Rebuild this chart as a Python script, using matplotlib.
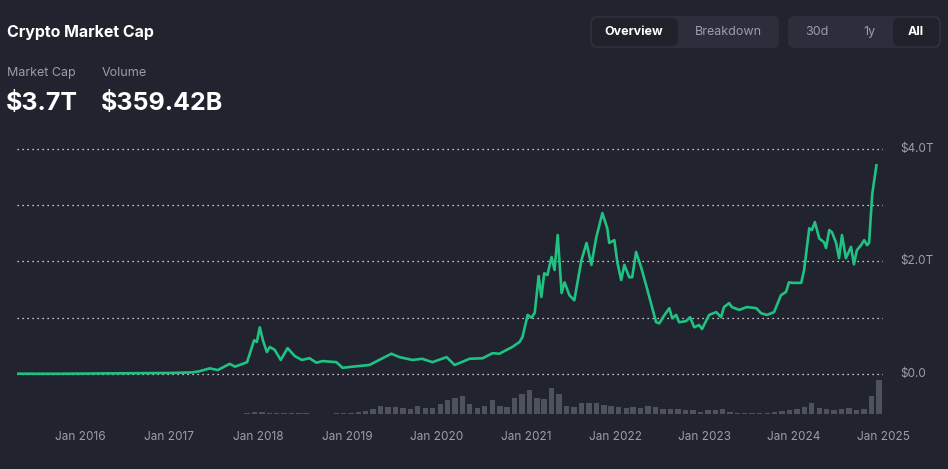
import numpy as np
import pandas as pd
import matplotlib
matplotlib.use("Agg")
import matplotlib.pyplot as plt
import matplotlib.dates as mdates
from matplotlib.patches import FancyBboxPatch

plt.rcParams['font.family'] = ['Inter', 'DejaVu Sans']

# ----------------------------------------------------------
# data
# ----------------------------------------------------------
mcap_dates = [
    "2015-04-18", "2015-10-01", "2016-01-01", "2016-06-01", "2017-01-01",
    "2017-04-01", "2017-05-01", "2017-06-15", "2017-07-18", "2017-09-05",
    "2017-09-27", "2017-11-15", "2017-12-14", "2017-12-25", "2018-01-06",
    "2018-01-19", "2018-02-04", "2018-02-16", "2018-03-08", "2018-04-02",
    "2018-04-30", "2018-05-29", "2018-06-27", "2018-07-29", "2018-08-26",
    "2018-09-20", "2018-11-16", "2018-12-11", "2019-01-21", "2019-03-31",
    "2019-05-24", "2019-06-29", "2019-08-01", "2019-09-23", "2019-11-02",
    "2019-12-14", "2020-02-10", "2020-03-14", "2020-05-14", "2020-07-07",
    "2020-08-16", "2020-09-13", "2020-11-05", "2020-12-05", "2020-12-17",
    "2021-01-07", "2021-01-23", "2021-02-05", "2021-02-21", "2021-03-04",
    "2021-03-16", "2021-03-29", "2021-04-15", "2021-04-27", "2021-05-10",
    "2021-05-26", "2021-06-07", "2021-06-27", "2021-07-17", "2021-08-15",
    "2021-09-05", "2021-09-25", "2021-10-15", "2021-11-09", "2021-11-29",
    "2021-12-07", "2021-12-28", "2022-01-09", "2022-01-25", "2022-02-07",
    "2022-02-27", "2022-03-11", "2022-03-27", "2022-04-17", "2022-05-07",
    "2022-05-27", "2022-06-17", "2022-06-30", "2022-07-20", "2022-08-10",
    "2022-08-22", "2022-09-07", "2022-09-19", "2022-10-18", "2022-11-03",
    "2022-11-20", "2022-12-10", "2022-12-22", "2023-01-20", "2023-02-18",
    "2023-03-10", "2023-03-22", "2023-04-12", "2023-04-23", "2023-05-23",
    "2023-06-12", "2023-06-24", "2023-08-01", "2023-08-21", "2023-09-14",
    "2023-10-13", "2023-11-10", "2023-12-01", "2023-12-13", "2023-12-26",
    "2024-02-01", "2024-02-13", "2024-03-05", "2024-03-16", "2024-03-28",
    "2024-04-15", "2024-05-05", "2024-05-13", "2024-05-26", "2024-06-06",
    "2024-06-23", "2024-07-05", "2024-07-17", "2024-08-02", "2024-08-23",
    "2024-09-04", "2024-09-16", "2024-10-03", "2024-10-16", "2024-10-28",
    "2024-11-05", "2024-11-18", "2024-11-28", "2024-12-05",
]
mcap_values = [
    0.005, 0.004, 0.007, 0.010, 0.018,
    0.028, 0.045, 0.10, 0.07, 0.18,
    0.13, 0.21, 0.60, 0.57, 0.83,
    0.60, 0.39, 0.48, 0.43, 0.25,
    0.46, 0.32, 0.25, 0.28, 0.20,
    0.23, 0.21, 0.11, 0.13, 0.16,
    0.28, 0.36, 0.30, 0.25, 0.27,
    0.21, 0.30, 0.16, 0.27, 0.28,
    0.37, 0.36, 0.48, 0.57, 0.66,
    1.05, 1.00, 1.09, 1.74, 1.37,
    1.79, 1.76, 2.08, 1.85, 2.47,
    1.44, 1.63, 1.40, 1.31, 2.02,
    2.33, 1.94, 2.43, 2.86, 2.59,
    2.33, 2.38, 1.99, 1.67, 1.94,
    1.72, 1.72, 2.17, 1.89, 1.58,
    1.26, 0.92, 0.90, 1.04, 1.17,
    0.99, 1.05, 0.92, 0.94, 1.01,
    0.83, 0.87, 0.80, 1.05, 1.10,
    1.01, 1.19, 1.26, 1.19, 1.14,
    1.17, 1.19, 1.17, 1.08, 1.05,
    1.10, 1.40, 1.46, 1.63, 1.62,
    1.62, 1.85, 2.59, 2.56, 2.70,
    2.41, 2.34, 2.24, 2.56, 2.52,
    2.33, 2.06, 2.47, 2.06, 2.26,
    1.95, 2.20, 2.29, 2.38, 2.29,
    2.33, 3.20, 3.50, 3.71,
]

vol_months = pd.date_range("2017-11-01", "2024-12-01", freq="MS")
vol_values = [
    15, 25, 25, 15, 15, 10, 15, 10, 10, 0, 0, 0,           # 2017-11 .. 2018-10
    8, 10,                                                  # 2018-11 .. 2018-12
    12, 20, 30, 50, 80, 70, 70, 60, 50, 80, 60, 60,         # 2019
    100, 140, 160, 180, 100, 60, 80, 140, 80, 70, 160, 200, # 2020
    240, 160, 150, 260, 200, 80, 70, 110, 110, 110, 90, 80, # 2021
    70, 60, 70, 60, 80, 70, 50, 50, 50, 40, 40, 20,         # 2022
    40, 40, 50, 20, 15, 15, 12, 12, 10, 20, 30, 40,         # 2023
    50, 70, 110, 60, 50, 40, 50, 60, 40, 50, 180, 340,      # 2024
]

x_ticks = pd.date_range("2016-01-01", "2025-01-01", freq="YS")
y_ticks = [0, 2, 4]
y_tick_labels = ["$0.0", "$2.0T", "$4.0T"]

# ----------------------------------------------------------
# style
# ----------------------------------------------------------
BG = "#21232e"
GREEN = "#1fc283"
GREY = "#9a9dab"
W, H = 948, 469

fig = plt.figure(figsize=(W / 100, H / 100), dpi=100, facecolor=BG)


def fx(px):
    return px / W


def fy(py):
    return 1 - py / H


# ----------------------------------------------------------
# header text
# ----------------------------------------------------------
fig.text(fx(7), fy(32), "Crypto Market Cap", color="white", fontsize=11.5,
         fontweight="bold", va="center", ha="left")
fig.text(fx(7), fy(73), "Market Cap", color=GREY, fontsize=9,
         va="center", ha="left")
fig.text(fx(102), fy(73), "Volume", color=GREY, fontsize=9,
         va="center", ha="left")
fig.text(fx(6), fy(103), "$3.7T", color="white", fontsize=18,
         fontweight="bold", va="center", ha="left")
fig.text(fx(101), fy(103), "$359.42B", color="white", fontsize=18,
         fontweight="bold", va="center", ha="left")

# buttons (drawn in inches so the corners stay round)
def button(x0, y0, x1, y1, color, r=5):
    p = FancyBboxPatch((x0 / 100, (H - y1) / 100), (x1 - x0) / 100, (y1 - y0) / 100,
                       boxstyle=f"round,pad=0,rounding_size={r / 100}",
                       transform=fig.dpi_scale_trans, facecolor=color,
                       edgecolor="none", zorder=0)
    fig.patches.append(p)


button(590, 16, 779, 48, "#2c2e3b", 7)
button(592, 18, 678, 46, "#1f212b", 6)
button(788, 16, 941, 48, "#2c2e3b", 7)
button(893, 18, 939, 46, "#1f212b", 6)

fig.text(fx(634), fy(32), "Overview", color="white", fontsize=9,
         fontweight="bold", va="center", ha="center")
fig.text(fx(728), fy(32), "Breakdown", color=GREY, fontsize=9,
         va="center", ha="center")
fig.text(fx(817), fy(32), "30d", color=GREY, fontsize=9,
         va="center", ha="center")
fig.text(fx(869), fy(32), "1y", color=GREY, fontsize=9,
         va="center", ha="center")
fig.text(fx(916), fy(32), "All", color="white", fontsize=9,
         fontweight="bold", va="center", ha="center")

# ----------------------------------------------------------
# chart
# ----------------------------------------------------------
ax = fig.add_axes([fx(17), fy(420), fx(883) - fx(17), fy(140) - fy(420)])
ax.set_facecolor("none")

dates = pd.to_datetime(mcap_dates)

# volume bars on a twin axis
axv = ax.twinx()
axv.bar(vol_months + pd.Timedelta(days=14), vol_values, width=22,
        color="#4e515e", zorder=1)
axv.set_ylim(-60, 2740)
axv.axis("off")

ax.set_zorder(axv.get_zorder() + 1)
ax.patch.set_visible(False)

for v in range(0, 5):
    ax.axhline(v, color="white", linestyle=(0, (1, 3)), linewidth=0.9, zorder=1)

ax.plot(dates, mcap_values, color=GREEN, linewidth=1.9, zorder=3,
        solid_joinstyle="round")

ax.set_xlim(pd.Timestamp("2015-04-18"), pd.Timestamp("2025-01-01"))
ax.set_ylim(-0.818, 4.16)

for s in ax.spines.values():
    s.set_visible(False)

ax.set_xticks(x_ticks)
ax.xaxis.set_major_formatter(mdates.DateFormatter("Jan %Y"))
ax.tick_params(axis="x", length=0, colors=GREY, labelsize=8.5, pad=8)
ax.set_yticks([])

for v, lab in zip(y_ticks, y_tick_labels):
    ax.text(1.02, v, lab, transform=ax.get_yaxis_transform(), color=GREY,
            fontsize=8.5, va="center", ha="left")

fig.savefig("out.png", dpi=100, facecolor=BG)
